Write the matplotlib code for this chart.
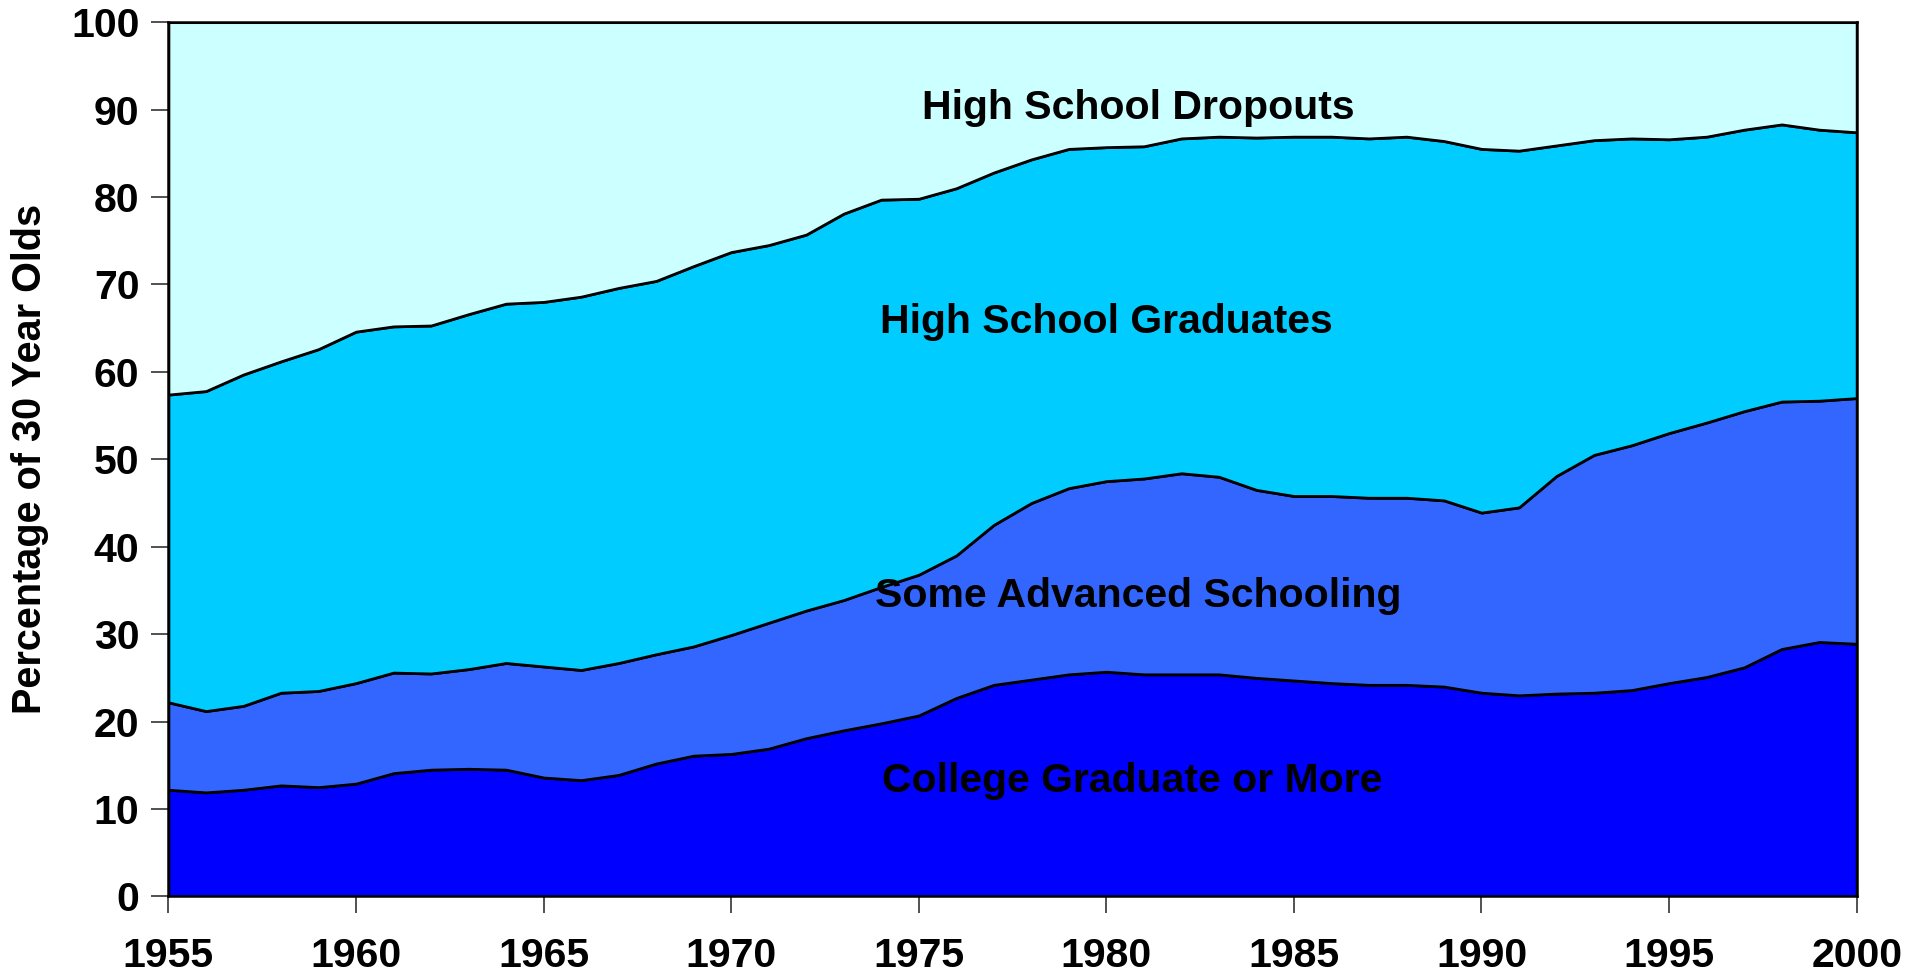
import numpy as np
import matplotlib
matplotlib.use("Agg")
import matplotlib.pyplot as plt

plt.rcParams["font.family"] = ["Liberation Sans", "DejaVu Sans"]
plt.rcParams["font.weight"] = "bold"

years = list(range(1955, 2001))

# cumulative levels (top edge of each band)
college_top = [12.2, 11.9, 12.2, 12.7, 12.5, 12.9, 14.1, 14.5, 14.6, 14.5,
               13.6, 13.3, 13.9, 15.2, 16.1, 16.3, 16.9, 18.1, 19.0, 19.8,
               20.7, 22.7, 24.2, 24.8, 25.4, 25.7, 25.4, 25.4, 25.4, 25.0,
               24.7, 24.4, 24.2, 24.2, 24.0, 23.3, 23.0, 23.2, 23.3, 23.6,
               24.4, 25.1, 26.2, 28.3, 29.1, 28.9]
advanced_top = [22.2, 21.2, 21.8, 23.3, 23.5, 24.4, 25.6, 25.5, 26.0, 26.7,
                26.3, 25.9, 26.7, 27.7, 28.6, 29.9, 31.3, 32.7, 33.9, 35.4,
                36.8, 39.0, 42.5, 45.0, 46.7, 47.5, 47.8, 48.4, 48.0, 46.5,
                45.8, 45.8, 45.6, 45.6, 45.3, 43.9, 44.5, 48.1, 50.5, 51.6,
                53.0, 54.2, 55.5, 56.6, 56.7, 57.0]
hs_grad_top = [57.4, 57.8, 59.7, 61.2, 62.6, 64.6, 65.2, 65.3, 66.6, 67.8,
               68.0, 68.6, 69.6, 70.4, 72.1, 73.7, 74.5, 75.7, 78.1, 79.7,
               79.8, 81.0, 82.8, 84.3, 85.5, 85.7, 85.8, 86.7, 86.9, 86.8,
               86.9, 86.9, 86.7, 86.9, 86.4, 85.5, 85.3, 85.9, 86.5, 86.7,
               86.6, 86.9, 87.7, 88.3, 87.7, 87.4]

labels = ["College Graduate or More", "Some Advanced Schooling",
          "High School Graduates", "High School Dropouts"]
colors = ["#0000FF", "#3366FF", "#00CCFF", "#CCFFFF"]

# band shares from the cumulative levels
levels = np.array([np.zeros(len(years)), college_top, advanced_top, hs_grad_top,
                   np.full(len(years), 100.0)])
shares = np.diff(levels, axis=0)

fig = plt.figure(figsize=(19.27, 9.75), dpi=100)
ax = fig.add_axes([0.0874, 0.0806, 0.8761, 0.8967])

ax.stackplot(years, shares, colors=colors, edgecolor="black", linewidth=2.0)

ax.set_xlim(1955, 2000)
ax.set_ylim(0, 100)
ax.set_xticks(range(1955, 2001, 5))
ax.set_yticks(range(0, 101, 10))
ax.tick_params(axis="both", direction="out", length=12, width=1.2,
               color="#333333", labelsize=29.5)
ax.tick_params(axis="y", pad=9)
ax.tick_params(axis="x", pad=17)
for lab in ax.get_xticklabels() + ax.get_yticklabels():
    lab.set_fontweight("bold")
for sp in ax.spines.values():
    sp.set_linewidth(1.8)
    sp.set_color("black")

ax.set_ylabel("Percentage of 30 Year Olds", fontsize=28.5, fontweight="bold",
              labelpad=16)

# band labels
text_pos = [(1980.7, 13.2), (1980.85, 34.4), (1980.0, 65.7), (1980.85, 90.2)]
for (tx, ty), lab in zip(text_pos, labels):
    ax.text(tx, ty, lab, fontsize=29.5, fontweight="bold", ha="center",
            va="center", color="black")

fig.savefig("out.png", dpi=100)
